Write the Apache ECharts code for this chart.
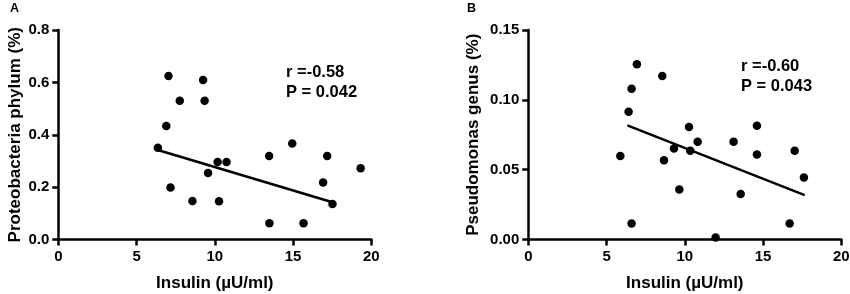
<!DOCTYPE html>
<html>
<head>
<meta charset="utf-8">
<script src="https://cdn.jsdelivr.net/npm/echarts@6/dist/echarts.min.js"></script>
<style>
  html, body { margin: 0; padding: 0; background: #fff; }
  #chart { width: 850px; height: 294px; }
</style>
</head>
<body>
<div id="chart"></div>
<script>
  // Panel A: insulin vs Proteobacteria phylum
  var insulinA = [6.36, 7.04, 6.9, 7.17, 7.76, 8.57, 9.25, 9.35, 9.57, 10.18, 10.75, 10.27, 13.47, 13.49, 14.95, 15.67, 16.92, 17.18, 17.52, 19.32];
  var proteoA = [0.350, 0.624, 0.433, 0.199, 0.530, 0.147, 0.609, 0.530, 0.254, 0.296, 0.296, 0.146, 0.319, 0.062, 0.367, 0.062, 0.218, 0.319, 0.136, 0.272];
  var fitA = [[6.36, 0.342], [17.52, 0.142]];

  // Panel B: insulin vs Pseudomonas genus
  var insulinB = [5.88, 6.41, 6.60, 6.94, 6.60, 8.56, 8.67, 9.31, 9.65, 10.27, 10.35, 10.82, 11.97, 13.12, 13.57, 14.61, 14.61, 16.70, 17.02, 17.61];
  var pseudoB = [0.0597, 0.0915, 0.108, 0.1254, 0.0115, 0.117, 0.0568, 0.0652, 0.0358, 0.0805, 0.0635, 0.070, 0.0014, 0.070, 0.0325, 0.0814, 0.0609, 0.0115, 0.0635, 0.0444];
  var fitB = [[6.33, 0.0817], [17.66, 0.0318]];

  var statsA = ['r =-0.58', 'P = 0.042'];
  var statsB = ['r =-0.60', 'P = 0.043'];

  function pairs(xs, ys) {
    return xs.map(function(x, i) { return [x, ys[i]]; });
  }

  var font = 'Liberation Sans';
  var axisLine = { show: true, onZero: false, lineStyle: { color: '#000', width: 2.5 } };
  var axisTick = { show: true, length: 6, lineStyle: { color: '#000', width: 2.5 } };
  var axisLabel = { color: '#000', fontWeight: 'bold', fontSize: 15, fontFamily: font };
  var nameStyle = { color: '#000', fontWeight: 'bold', fontSize: 17, fontFamily: font };

  function xAxis(idx) {
    return {
      type: 'value', gridIndex: idx, min: 0, max: 20, interval: 5,
      axisLine: axisLine, axisTick: axisTick,
      axisLabel: Object.assign({ margin: 10 }, axisLabel),
      splitLine: { show: false },
      name: 'Insulin (µU/ml)', nameLocation: 'middle', nameGap: 35,
      nameTextStyle: nameStyle
    };
  }

  function yAxis(idx, max, interval, fmt, name, gap) {
    return {
      type: 'value', gridIndex: idx, min: 0, max: max, interval: interval,
      axisLine: axisLine, axisTick: axisTick,
      axisLabel: Object.assign({ margin: 9, formatter: function(v) { return v.toFixed(fmt); } }, axisLabel),
      splitLine: { show: false },
      name: name, nameLocation: 'middle', nameGap: gap,
      nameTextStyle: nameStyle
    };
  }

  function scatter(idx, data) {
    return {
      type: 'scatter', xAxisIndex: idx, yAxisIndex: idx, data: data,
      symbolSize: 8.5, itemStyle: { color: '#000', opacity: 1 }, silent: true
    };
  }

  function fit(idx, data) {
    return {
      type: 'line', xAxisIndex: idx, yAxisIndex: idx, data: data,
      symbol: 'none', lineStyle: { color: '#000', width: 2.5 }, silent: true
    };
  }

  function statText(left, top, lines) {
    return {
      type: 'text', left: left, top: top,
      style: { text: lines.join('\n'), fill: '#000', fontWeight: 'bold', fontSize: 16.5, fontFamily: font, lineHeight: 20 }
    };
  }

  var option = {
    animation: false,
    backgroundColor: '#fff',
    grid: [
      { left: 58.3, top: 30, width: 313, height: 209.5, outerBoundsMode: 'none' },
      { left: 528.3, top: 30, width: 313, height: 209.5, outerBoundsMode: 'none' }
    ],
    xAxis: [xAxis(0), xAxis(1)],
    yAxis: [
      yAxis(0, 0.8, 0.2, 1, 'Proteobacteria phylum (%)', 34),
      yAxis(1, 0.15, 0.05, 2, 'Pseudomonas genus (%)', 46)
    ],
    series: [
      scatter(0, pairs(insulinA, proteoA)),
      fit(0, fitA),
      scatter(1, pairs(insulinB, pseudoB)),
      fit(1, fitB)
    ],
    graphic: [
      { type: 'text', left: 10, top: 2, style: { text: 'A', fill: '#000', fontWeight: 'bold', fontSize: 12.5, fontFamily: font } },
      { type: 'text', left: 467, top: 2, style: { text: 'B', fill: '#000', fontWeight: 'bold', fontSize: 12.5, fontFamily: font } },
      statText(286, 62, statsA),
      statText(741, 56, statsB)
    ]
  };

  echarts.init(document.getElementById('chart')).setOption(option);
</script>
</body>
</html>
